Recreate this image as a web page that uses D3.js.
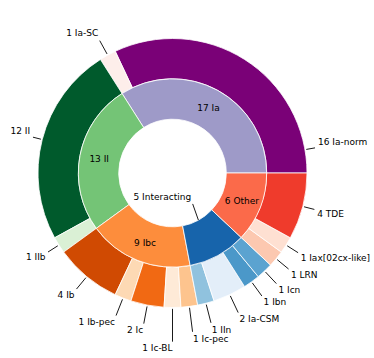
<!DOCTYPE html>
<html>
<head>
<meta charset="utf-8">
<script src="https://cdn.jsdelivr.net/npm/d3@7"></script>
<style>
  html, body { margin: 0; padding: 0; background: #fff; }
  text { font-family: "DejaVu Sans", sans-serif; }
</style>
</head>
<body>
<svg id="chart" width="374" height="358"></svg>
<script>
// ---- data ----
const innerLabels = ["Ia", "II", "Ibc", "Interacting", "Other"];
const innerCounts = [17, 13, 9, 5, 6];
const outerLabels = ["Ia-norm", "Ia-SC", "II", "IIb", "Ib", "Ib-pec", "Ic", "Ic-BL", "Ic-pec",
                     "IIn", "Ia-CSM", "Ibn", "Icn", "LRN", "Iax[02cx-like]", "TDE"];
const outerCounts = [16, 1, 12, 1, 4, 1, 2, 1, 1, 1, 2, 1, 1, 1, 1, 4];

// ---- styles ----
const innerColors = ["#9e9ac8", "#74c476", "#fd8d3c", "#1764ab", "#fb6a4a"];
const outerColors = ["#7a0177", "#fdeeea", "#005a2c", "#daf0d5", "#d04a02", "#fdd9b4",
                     "#f16913", "#feead7", "#fdc48e", "#90c2de", "#e3eef9", "#4b98c9",
                     "#5ba3d0", "#fcc8b0", "#fee0d2", "#ef3b2c"];
// leader line end radius (fraction of outer radius), per outer label
const leaderR = [1.076, 1.123, 1.071, 1.096, 1.12, 1.14, 1.14, 1.254, 1.19, 1.15, 1.147,
                 1.13, 1.128, 1.12, 1.106, 1.089];
const angleOverride = { "Ia-norm": 80 }; // degrees, clockwise from 12 o'clock

const W = 374, H = 358, cx = 172.5, cy = 173, R = 134.5;
const r = d3.scaleLinear().domain([0, 1]).range([0, R]);

const svg = d3.select("#chart");
const g = svg.append("g").attr("transform", `translate(${cx},${cy})`);

const pie = d3.pie().sort(null).value(d => d)
  .startAngle(Math.PI / 2).endAngle(Math.PI / 2 - 2 * Math.PI);

const outerArc = d3.arc().innerRadius(r(0.7)).outerRadius(r(1.0));
const innerArc = d3.arc().innerRadius(r(0.4)).outerRadius(r(0.7));

const outerData = pie(outerCounts);
const innerData = pie(innerCounts);

g.append("g").selectAll("path").data(outerData).join("path")
  .attr("d", outerArc)
  .attr("fill", (d, i) => outerColors[i])
  .attr("stroke", "#fff").attr("stroke-width", 0.8);

g.append("g").selectAll("path").data(innerData).join("path")
  .attr("d", innerArc)
  .attr("fill", (d, i) => innerColors[i])
  .attr("stroke", "#fff").attr("stroke-width", 0.8);

const pt = (a, rad) => [Math.sin(a) * rad, -Math.cos(a) * rad];

// outer labels with leader lines
const lab = g.append("g");
outerData.forEach((d, i) => {
  const name = outerLabels[i];
  let a = (d.startAngle + d.endAngle) / 2;
  if (angleOverride[name] !== undefined) a = angleOverride[name] * Math.PI / 180;
  const p0 = pt(a, r(1.01));
  const p1 = pt(a, r(leaderR[i]));
  lab.append("line")
    .attr("x1", p0[0]).attr("y1", p0[1]).attr("x2", p1[0]).attr("y2", p1[1])
    .attr("stroke", "#000").attr("stroke-width", 0.9);
  const ux = Math.sin(a), uy = -Math.cos(a);
  const ax = p1[0] + ux * 3, ay = p1[1] + uy * 3;
  const right = Math.sin(a) > 1e-9;
  const below = uy > 0;
  lab.append("text")
    .attr("x", ax)
    .attr("y", below ? ay + 6.8 : ay - 2)
    .attr("text-anchor", right ? "start" : "end")
    .attr("font-size", 9)
    .attr("fill", "#000")
    .text(`${outerCounts[i]} ${name}`);
});

// inner labels
innerData.forEach((d, i) => {
  const name = innerLabels[i];
  const a = (d.startAngle + d.endAngle) / 2;
  if (name === "Interacting") {
    const p0 = pt(a, r(0.4));
    const tx = r(-0.076), ty = r(0.176);
    g.append("line")
      .attr("x1", p0[0]).attr("y1", p0[1])
      .attr("x2", r(0.15)).attr("y2", r(0.23))
      .attr("stroke", "#000").attr("stroke-width", 0.9);
    g.append("text")
      .attr("x", tx).attr("y", ty).attr("dy", "0.35em")
      .attr("text-anchor", "middle").attr("font-size", 9).attr("fill", "#000")
      .text(`${innerCounts[i]} ${name}`);
  } else {
    const p = pt(a, r(0.555));
    g.append("text")
      .attr("x", p[0]).attr("y", p[1]).attr("dy", "0.35em")
      .attr("text-anchor", "middle").attr("font-size", 9).attr("fill", "#000")
      .text(`${innerCounts[i]} ${name}`);
  }
});
</script>
</body>
</html>
